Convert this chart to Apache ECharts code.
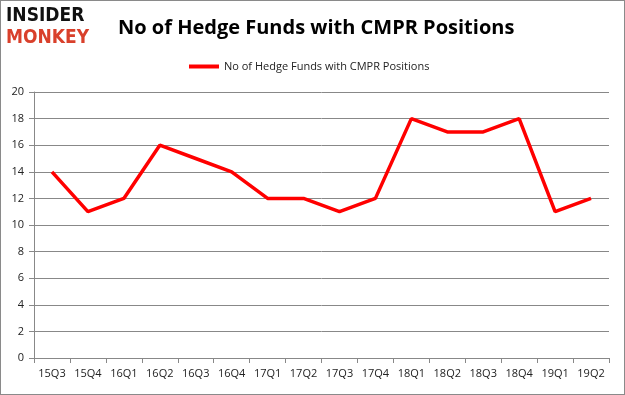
<!DOCTYPE html>
<html><head><meta charset="utf-8">
<script src="https://cdn.jsdelivr.net/npm/echarts@6/dist/echarts.min.js"></script>
<style>html,body{margin:0;padding:0;background:#fff}#c{width:625px;height:395px;box-sizing:border-box;border:1px solid #8a8a8a}</style>
</head><body><div id="c"></div>
<script>
const categories = ['15Q3','15Q4','16Q1','16Q2','16Q3','16Q4','17Q1','17Q2','17Q3','17Q4','18Q1','18Q2','18Q3','18Q4','19Q1','19Q2'];
const seriesName = 'No of Hedge Funds with CMPR Positions';
const values = [14, 11, 12, 16, 15, 14, 12, 12, 11, 12, 18, 17, 17, 18, 11, 12];
const yTicks = {min: 0, max: 20, interval: 2};

const chart = echarts.init(document.getElementById('c'), null, {renderer: 'canvas'});
chart.setOption({
  animation: false,
  title: {
    text: 'No of Hedge Funds with CMPR Positions',
    left: 112, top: 12,
    textStyle: {fontFamily: 'Open Sans', fontWeight: 'bold', fontSize: 20, color: '#000'}
  },
  graphic: [
    {type: 'text', left: 5, top: 6, style: {text: 'INSIDER', font: 'bold 19px "DejaVu Sans Condensed", "DejaVu Sans"', fill: '#111'}},
    {type: 'text', left: 5, top: 28, style: {text: 'MONKEY', font: 'bold 19px "DejaVu Sans Condensed", "DejaVu Sans"', fill: '#d9402b'}}
  ],
  legend: {
    top: 55, left: 183,
    itemWidth: 30, itemHeight: 4, itemGap: 4,
    icon: 'rect',
    textStyle: {fontFamily: 'Open Sans', fontSize: 11, color: '#222'},
    data: [seriesName]
  },
  grid: {left: 33, right: 15, top: 91, bottom: 36, containLabel: false},
  xAxis: {
    type: 'category', data: categories, boundaryGap: true,
    axisLine: {lineStyle: {color: '#888'}},
    axisTick: {show: true, alignWithLabel: false, length: 5, lineStyle: {color: '#888'}},
    axisLabel: {fontFamily: 'Open Sans', fontSize: 11, color: '#222', margin: 10}
  },
  yAxis: {
    type: 'value', min: yTicks.min, max: yTicks.max, interval: yTicks.interval,
    axisLine: {show: true, lineStyle: {color: '#888'}},
    axisTick: {show: true, length: 5, lineStyle: {color: '#888'}},
    splitLine: {lineStyle: {color: '#888', width: 1}},
    axisLabel: {fontFamily: 'Open Sans', fontSize: 11, color: '#222', margin: 10}
  },
  series: [{
    name: seriesName, type: 'line', data: values,
    symbol: 'none', lineStyle: {color: '#ff0000', width: 3.5},
    itemStyle: {color: '#ff0000'}
  }]
});
</script></body></html>
